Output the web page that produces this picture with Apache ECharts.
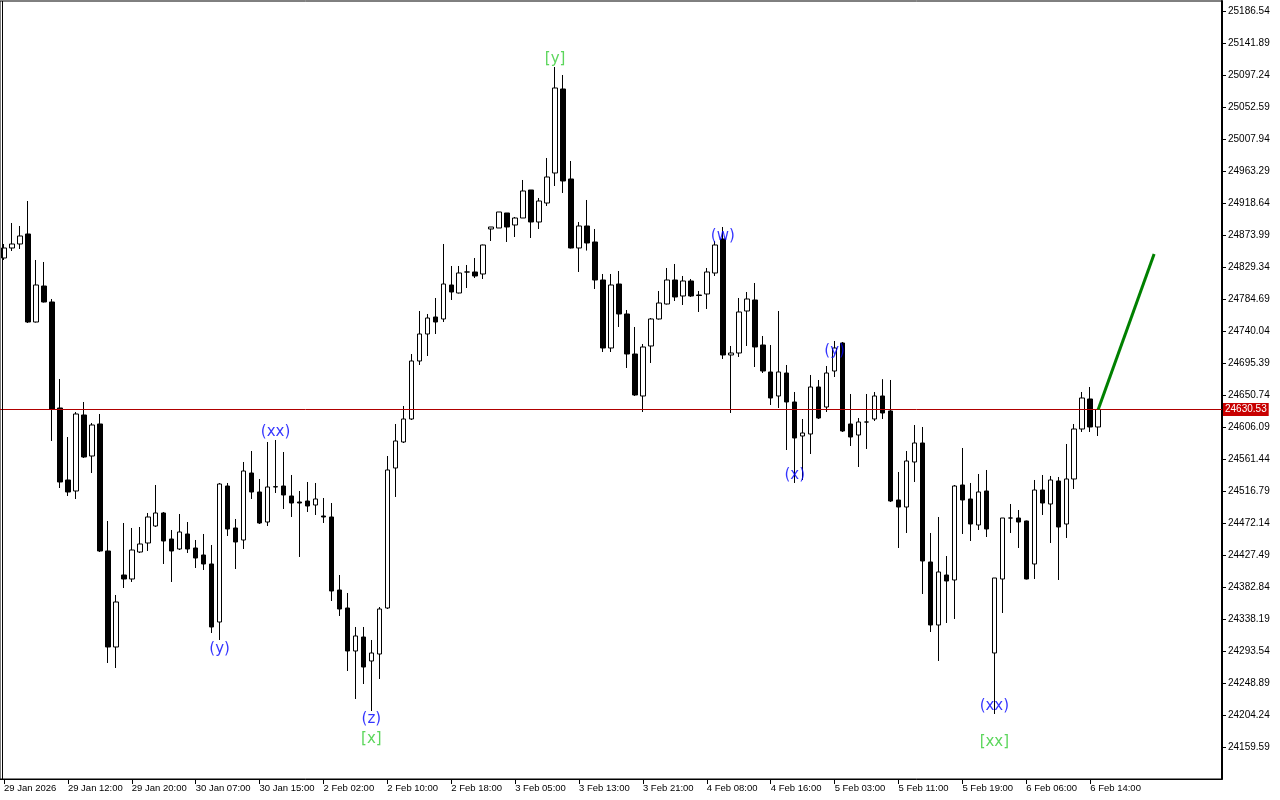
<!DOCTYPE html>
<html><head><meta charset="utf-8">
<script src="https://cdn.jsdelivr.net/npm/echarts@6/dist/echarts.min.js"></script>
<style>html,body{margin:0;padding:0;background:#fff}#c{width:1280px;height:800px}</style>
</head><body><div id="c"></div>
<script>
// ---- data ----
const tickLabels = ['29 Jan 2026','29 Jan 12:00','29 Jan 20:00','30 Jan 07:00','30 Jan 15:00','2 Feb 02:00','2 Feb 10:00','2 Feb 18:00','3 Feb 05:00','3 Feb 13:00','3 Feb 21:00','4 Feb 08:00','4 Feb 16:00','5 Feb 03:00','5 Feb 11:00','5 Feb 19:00','6 Feb 06:00','6 Feb 14:00'];
const priceTicks = [25186.54,25141.89,25097.24,25052.59,25007.94,24963.29,24918.64,24873.99,24829.34,24784.69,24740.04,24695.39,24650.74,24606.09,24561.44,24516.79,24472.14,24427.49,24382.84,24338.19,24293.54,24248.89,24204.24,24159.59];
const opens = [24841.90,24855.86,24861.44,24875.39,24752.60,24802.83,24780.51,24632.61,24532.15,24516.80,
24622.84,24565.63,24610.28,24433.08,24299.13,24399.59,24394.01,24431.68,24444.24,24467.96,
24486.10,24449.82,24435.87,24456.80,24437.27,24427.50,24414.94,24334.01,24523.77,24465.17,
24448.43,24541.91,24515.40,24473.54,24522.38,24523.77,24509.82,24501.45,24502.84,24497.26,
24481.92,24480.52,24378.66,24353.55,24293.55,24313.08,24279.60,24289.36,24353.55,24548.89,
24585.17,24617.26,24698.19,24735.86,24759.58,24756.79,24804.23,24793.07,24822.37,24822.37,
24819.58,24882.37,24883.76,24904.69,24887.95,24897.71,24936.78,24892.13,24918.64,24960.50,
25077.71,24952.13,24855.86,24886.55,24864.23,24811.21,24716.33,24805.62,24763.77,24707.95,
24649.35,24719.12,24756.79,24777.72,24811.21,24788.88,24809.81,24790.28,24791.67,24820.97,
24868.41,24706.56,24709.35,24767.95,24783.30,24720.51,24682.84,24649.35,24681.44,24640.98,
24593.54,24596.33,24661.91,24634.00,24684.23,24723.30,24610.28,24594.93,24613.07,24617.26,
24649.35,24628.42,24504.24,24494.47,24557.26,24583.77,24417.73,24329.83,24399.59,24392.62,
24525.17,24505.64,24469.36,24516.80,24290.76,24394.01,24479.12,24479.12,24474.94,24414.94,
24518.19,24498.66,24530.75,24470.75,24533.54,24603.31,24645.17,24606.10];
const closes = [24855.86,24861.44,24872.60,24752.60,24804.23,24780.51,24631.21,24529.36,24515.40,24624.24,
24564.24,24608.89,24433.08,24299.13,24361.92,24394.01,24434.47,24442.85,24480.52,24486.10,
24447.03,24433.08,24459.59,24435.87,24423.31,24414.94,24327.04,24526.56,24463.78,24445.64,
24544.70,24515.40,24472.15,24522.38,24522.90,24511.22,24500.05,24500.05,24495.87,24505.64,
24480.52,24377.27,24352.15,24293.55,24314.48,24271.22,24290.76,24352.15,24546.10,24586.56,
24617.26,24698.19,24735.86,24758.18,24752.60,24805.62,24794.46,24820.97,24822.37,24816.79,
24860.04,24885.16,24906.09,24885.16,24897.71,24935.39,24892.13,24921.43,24954.92,25079.10,
24949.34,24855.86,24886.55,24862.83,24811.21,24716.33,24804.23,24763.77,24707.95,24650.75,
24717.72,24756.79,24779.11,24811.21,24787.49,24809.81,24788.88,24789.58,24822.37,24860.04,
24706.56,24709.35,24766.56,24784.70,24717.72,24684.23,24646.56,24682.84,24640.98,24590.75,
24597.73,24661.91,24618.65,24681.44,24716.33,24600.52,24592.14,24613.07,24613.07,24649.35,
24625.63,24502.84,24494.47,24558.66,24583.77,24419.13,24329.83,24403.78,24391.22,24523.77,
24504.24,24470.75,24515.40,24463.78,24395.41,24479.12,24479.12,24473.54,24394.01,24518.19,
24500.05,24532.15,24466.57,24533.54,24603.31,24646.56,24606.10,24630.53];
const lows = [24839.11,24851.67,24854.46,24751.21,24751.90,24779.80,24586.56,24520.98,24509.82,24505.64,
24562.84,24541.91,24431.68,24276.81,24269.83,24381.45,24389.83,24430.29,24433.08,24466.57,
24414.94,24389.83,24434.47,24430.29,24409.36,24406.57,24318.67,24308.90,24454.01,24407.96,
24435.87,24505.64,24470.75,24467.96,24514.01,24491.68,24480.52,24424.71,24487.50,24483.31,
24472.15,24363.31,24342.39,24265.64,24226.58,24247.50,24209.83,24254.48,24352.15,24508.43,
24583.77,24615.86,24692.61,24705.16,24735.86,24752.60,24783.30,24792.40,24800.04,24814.00,
24812.60,24865.62,24883.76,24864.23,24871.20,24897.71,24869.81,24882.37,24914.46,24942.36,
24932.60,24855.20,24822.37,24852.27,24798.65,24710.74,24710.74,24745.63,24688.42,24649.35,
24627.03,24695.40,24756.00,24777.00,24781.90,24776.32,24787.49,24766.56,24770.74,24816.79,
24700.98,24625.63,24703.77,24719.12,24689.81,24681.44,24636.79,24632.61,24574.00,24527.96,
24532.15,24568.42,24617.26,24627.03,24675.86,24599.12,24579.59,24550.28,24575.40,24614.47,
24617.26,24501.45,24437.27,24458.20,24529.36,24373.08,24320.06,24279.60,24332.62,24338.20,
24456.80,24447.03,24462.38,24452.61,24205.65,24346.57,24458.20,24437.27,24393.40,24394.01,
24483.31,24444.24,24392.62,24451.22,24519.59,24599.12,24599.12,24593.54];
const highs = [24861.44,24890.74,24886.55,24921.43,24839.11,24836.32,24784.70,24673.07,24592.14,24627.03,
24640.98,24611.68,24624.24,24474.94,24371.69,24472.15,24465.17,24466.57,24486.10,24525.17,
24487.50,24462.38,24484.71,24473.54,24448.43,24456.80,24441.45,24527.96,24527.96,24477.73,
24557.26,24572.61,24533.54,24585.17,24587.96,24571.21,24539.12,24516.80,24529.36,24527.96,
24507.03,24500.05,24399.59,24374.48,24327.04,24327.04,24308.90,24354.94,24565.63,24610.28,
24635.40,24707.95,24767.95,24763.77,24786.09,24861.44,24830.74,24830.74,24832.14,24841.90,
24860.60,24885.16,24906.09,24904.69,24899.11,24950.74,24936.78,24925.62,24981.43,25108.40,
25097.24,24977.25,24892.13,24922.83,24882.37,24819.58,24819.58,24823.76,24769.35,24745.63,
24721.91,24758.18,24795.86,24827.95,24833.53,24816.79,24812.60,24795.86,24827.95,24865.62,
24885.16,24719.12,24786.09,24794.46,24807.02,24733.07,24720.51,24767.95,24692.61,24654.93,
24617.26,24678.65,24671.68,24691.21,24726.09,24724.70,24652.14,24618.65,24652.14,24654.93,
24672.84,24671.68,24543.31,24572.61,24608.89,24606.10,24458.20,24480.52,24426.10,24525.17,
24576.80,24527.96,24540.52,24546.10,24395.41,24479.12,24498.66,24490.29,24475.50,24532.15,
24539.12,24537.73,24536.33,24582.38,24610.28,24654.93,24661.91,24631.00];
const lastPrice = 24630.53;
const projBars = [137, 144];
const projPrices = [24630.53, 24847.48];
const waveTexts = ['[y]','(w)','(y)','(x)','(xx)','(y)','(z)','[x]','(xx)','[xx]'];
const waveBars = [69, 90, 104, 99, 34, 27, 46, 46, 124, 124];
const wavePrices = [25119.57, 24872.60, 24712.14, 24539.12, 24599.12, 24296.34, 24198.67, 24170.76, 24216.81, 24166.58];

// ---- chart ----
const slotCount = 153;
const categories = Array.from({length: slotCount}, (_, i) => String(i));
const candleData = opens.map((o, i) => [o, closes[i], lows[i], highs[i]]);
const yMax = 25200.49, yMin = 24114.95;
const showTick = (i) => i % 8 === 0 && i / 8 < tickLabels.length;

const chart = echarts.init(document.getElementById('c'), null, {renderer: 'canvas'});
chart.setOption({
  animation: false,
  backgroundColor: '#ffffff',
  grid: {left: -2, top: 1, width: 1224, height: 778, show: true, borderColor: '#000', borderWidth: 1, backgroundColor: 'transparent'},
  xAxis: {
    type: 'category', data: categories, boundaryGap: true,
    axisLine: {show: true, lineStyle: {color: '#000', width: 1}},
    axisTick: {show: true, alignWithLabel: true, length: 5, interval: showTick, lineStyle: {color: '#000'}},
    axisLabel: {interval: showTick, formatter: (v, i) => tickLabels[i / 8] || '', align: 'left', margin: 4,
      color: '#000', fontSize: 9.5, fontFamily: 'Liberation Sans'},
    splitLine: {show: false}
  },
  yAxis: {
    type: 'value', position: 'right', min: yMin, max: yMax,
    axisLine: {show: true, lineStyle: {color: '#000', width: 2}},
    axisTick: {show: true, length: 4, customValues: priceTicks, lineStyle: {color: '#000'}},
    axisLabel: {customValues: priceTicks, formatter: v => v.toFixed(2), margin: 6, color: '#000',
      fontSize: 10, fontFamily: 'Liberation Sans', align: 'left'},
    splitLine: {show: false}
  },
  graphic: [{type: 'line', shape: {x1: 2.5, y1: 1, x2: 2.5, y2: 779}, style: {stroke: '#000', lineWidth: 1}, silent: true, z: 100}],
  series: [
    {
      type: 'candlestick', data: candleData, barWidth: 5, clip: true,
      itemStyle: {color: '#ffffff', color0: '#000000', borderColor: '#000000', borderColor0: '#000000', borderWidth: 1},
      markLine: {
        silent: true, symbol: ['none', 'none'], animation: false,
        data: [{yAxis: lastPrice}],
        lineStyle: {color: '#b00000', width: 1, type: 'solid'},
        label: {show: true, position: 'end', formatter: lastPrice.toFixed(2), color: '#fff', backgroundColor: '#c80000',
          padding: [2, 2, 1, 2], fontSize: 10, fontFamily: 'Liberation Sans', distance: 1},
        emphasis: {disabled: true}
      }
    },
    {
      type: 'line', data: projBars.map((b, i) => [b, projPrices[i]]), symbol: 'none',
      lineStyle: {color: '#008000', width: 3}, z: 5, silent: true
    },
    {
      type: 'scatter', symbolSize: 1, itemStyle: {color: 'transparent'}, silent: true, z: 10,
      data: waveBars.map((b, i) => ({value: [b, wavePrices[i]],
        label: {color: waveTexts[i][0] === '[' ? '#33cc33' : '#0000ff'}})),
      label: {show: true, position: 'inside', formatter: p => waveTexts[p.dataIndex], fontSize: 15, fontFamily: 'DejaVu Sans'}
    }
  ]
});
</script></body></html>
